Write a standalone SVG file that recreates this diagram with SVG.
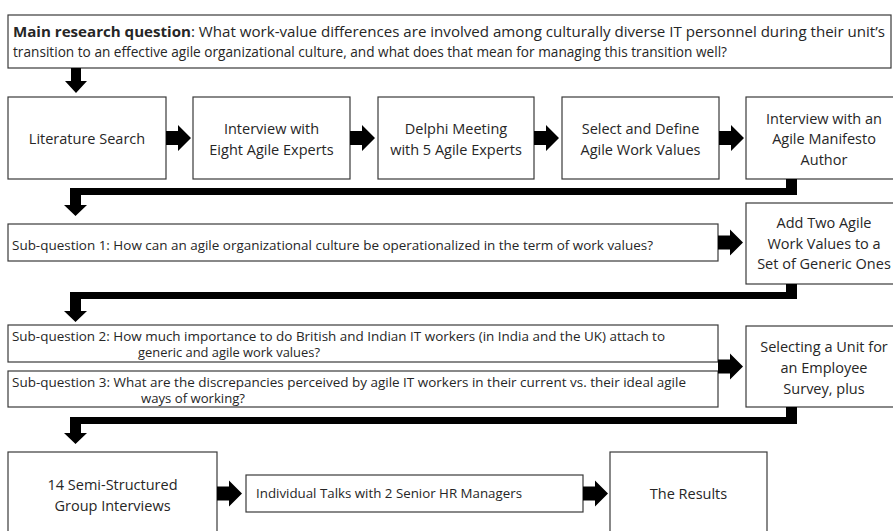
<svg xmlns="http://www.w3.org/2000/svg" width="893" height="531" viewBox="0 0 893 531">
  <style>
    .box { fill: #ffffff; stroke: #3a3a3a; stroke-width: 1.2; }
    .lbl { font-family: "Open Sans", "Noto Sans", sans-serif; font-size: 14.5px; fill: #262626; text-anchor: middle; }
    .q { font-family: "Open Sans", "Noto Sans", sans-serif; font-size: 13px; fill: #262626; }
    .main { font-family: "Open Sans", "Noto Sans", sans-serif; font-size: 15px; fill: #262626; }
    .arrow { fill: #000000; }
  </style>
  <defs>
    <!-- block arrow pointing right, origin at the tail centre -->
    <path id="ra" d="M0,-7 H12 V-13 L25,0 L12,13 V7 H0 Z"/>
  </defs>
  <rect width="893" height="531" fill="#ffffff"/>

  <g id="main-question">
    <rect class="box" x="8" y="15" width="883" height="53"/>
    <text class="main" x="13" y="37" textLength="872" lengthAdjust="spacingAndGlyphs"><tspan font-weight="bold">Main research question</tspan>: What work-value differences are involved among culturally diverse IT personnel during their unit’s</text>
    <text class="main" x="13" y="57" textLength="714" lengthAdjust="spacingAndGlyphs">transition to an effective agile organizational culture, and what does that mean for managing this transition well?</text>
  </g>

  <g id="literature-search">
    <rect class="box" x="8" y="97" width="158" height="82"/>
    <text class="lbl" x="87" y="144">Literature Search</text>
  </g>
  <g id="expert-interviews">
    <rect class="box" x="193" y="97" width="157" height="82"/>
    <text class="lbl" x="271.5" y="134">Interview with</text>
    <text class="lbl" x="271.5" y="155">Eight Agile Experts</text>
  </g>
  <g id="delphi-meeting">
    <rect class="box" x="378" y="97" width="156" height="82"/>
    <text class="lbl" x="456" y="134">Delphi Meeting</text>
    <text class="lbl" x="456" y="155">with 5 Agile Experts</text>
  </g>
  <g id="select-values">
    <rect class="box" x="562" y="97" width="157" height="82"/>
    <text class="lbl" x="640.5" y="134">Select and Define</text>
    <text class="lbl" x="640.5" y="155">Agile Work Values</text>
  </g>
  <g id="manifesto-author">
    <rect class="box" x="746" y="97" width="156" height="82"/>
    <text class="lbl" x="824" y="123.5">Interview with an</text>
    <text class="lbl" x="824" y="144">Agile Manifesto</text>
    <text class="lbl" x="824" y="164.5">Author</text>
  </g>

  <g id="sub-question-1">
    <rect class="box" x="8" y="224" width="710" height="37"/>
    <text class="q" x="12" y="250" textLength="641" lengthAdjust="spacingAndGlyphs">Sub-question 1: How can an agile organizational culture be operationalized in the term of work values?</text>
  </g>
  <g id="add-values">
    <rect class="box" x="746" y="203" width="156" height="81"/>
    <text class="lbl" x="824" y="228">Add Two Agile</text>
    <text class="lbl" x="824" y="248.5">Work Values to a</text>
    <text class="lbl" x="824" y="269">Set of Generic Ones</text>
  </g>

  <g id="sub-question-2">
    <rect class="box" x="8" y="325" width="710" height="37"/>
    <text class="q" x="12" y="340.5" textLength="653" lengthAdjust="spacingAndGlyphs">Sub-question 2: How much importance to do British and Indian IT workers (in India and the UK) attach to</text>
    <text class="q" x="138" y="357" textLength="182" lengthAdjust="spacingAndGlyphs">generic and agile work values?</text>
  </g>
  <g id="sub-question-3">
    <rect class="box" x="8" y="371" width="710" height="36"/>
    <text class="q" x="12" y="386.5" textLength="674" lengthAdjust="spacingAndGlyphs">Sub-question 3: What are the discrepancies perceived by agile IT workers in their current vs. their ideal agile</text>
    <text class="q" x="141" y="403" textLength="104" lengthAdjust="spacingAndGlyphs">ways of working?</text>
  </g>
  <g id="employee-survey">
    <rect class="box" x="746" y="326" width="156" height="81"/>
    <text class="lbl" x="824" y="352">Selecting a Unit for</text>
    <text class="lbl" x="824" y="373">an Employee</text>
    <text class="lbl" x="824" y="394">Survey, plus</text>
  </g>

  <g id="group-interviews">
    <rect class="box" x="8" y="452" width="209" height="90"/>
    <text class="lbl" x="112.5" y="490">14 Semi-Structured</text>
    <text class="lbl" x="112.5" y="510.5">Group Interviews</text>
  </g>
  <g id="hr-talks">
    <rect class="box" x="246" y="475" width="337" height="37"/>
    <text class="q" x="256" y="497.5" textLength="266" lengthAdjust="spacingAndGlyphs">Individual Talks with 2 Senior HR Managers</text>
  </g>
  <g id="results">
    <rect class="box" x="610" y="452" width="157" height="90"/>
    <text class="lbl" x="688.5" y="498.5">The Results</text>
  </g>

  <g id="connectors" class="arrow">
    <!-- main question down to the first step -->
    <path d="M71,68 H81 V81 H87 L76,93 L65,81 H71 Z"/>
    <!-- first row, left to right -->
    <use href="#ra" transform="translate(166,138)"/>
    <use href="#ra" transform="translate(350,138)"/>
    <use href="#ra" transform="translate(534,138)"/>
    <use href="#ra" transform="translate(719,138)"/>
    <!-- elbow returns from the right column back to the left margin -->
    <path d="M786,179 H797 V195 H81 V205 H87 L75.5,216 L64,205 H70 V188 H786 Z"/>
    <path d="M786,284 H797 V299 H81 V311 H87 L75.5,322 L64,311 H70 V292 H786 Z"/>
    <path d="M786,407 H797 V424 H81 V433 H87 L75.5,444 L64,433 H70 V417 H786 Z"/>
    <!-- sub-questions to their steps -->
    <use href="#ra" transform="translate(718,242.5)"/>
    <use href="#ra" transform="translate(718,366.5)"/>
    <!-- last row -->
    <use href="#ra" transform="translate(217,493.5)"/>
    <use href="#ra" transform="translate(583,493.5)"/>
  </g>
</svg>
